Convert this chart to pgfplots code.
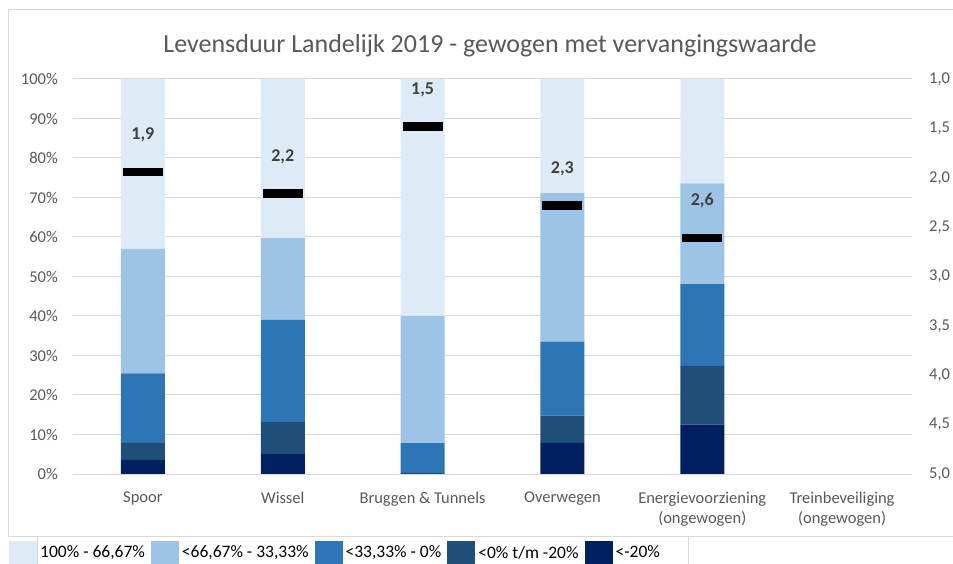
\documentclass[border=0pt]{standalone}
\usepackage{pgfplots}
\pgfplotsset{compat=1.18}
\usepackage{fontspec}
\setmainfont{Carlito}
\definecolor{cA}{HTML}{DEEBF7}
\definecolor{cB}{HTML}{9DC3E6}
\definecolor{cC}{HTML}{2E75B6}
\definecolor{cD}{HTML}{1F4E79}
\definecolor{cE}{HTML}{002060}
\definecolor{txtgray}{HTML}{595959}
\definecolor{lblgray}{HTML}{404040}
\definecolor{gridgray}{HTML}{D9D9D9}
\newcommand\tickfont{\fontsize{16.5bp}{20bp}\selectfont}
\newcommand\legfont{\fontsize{17.5bp}{21bp}\selectfont}
\newcommand\titlefont{\fontsize{26bp}{30bp}\selectfont}
\newcommand\lblfont{\fontsize{18bp}{21bp}\selectfont\bfseries}
\pgfplotsset{legimg/.style={legend image code/.code={\fill[##1] (0bp,-11.5bp) rectangle (28bp,11.5bp);}}}
\begin{document}
\begin{tikzpicture}
\useasboundingbox (0,0) rectangle (953bp,564bp);
\fill[white] (0,0) rectangle (953bp,564bp);
\begin{scope}
\clip (0,0) rectangle (953bp,564bp);
\draw[gridgray, line width=1bp] (8bp,27bp) rectangle (970bp,554bp);
\draw[gridgray, line width=1bp] (37bp,0bp) -- (37bp,27bp);
\draw[gridgray, line width=1bp] (688bp,0bp) -- (688bp,27bp);
\end{scope}
\node[anchor=base, text=txtgray, font=\titlefont, inner sep=0pt] at (490bp,511.5bp) {Levensduur Landelijk 2019 - gewogen met vervangingswaarde};
\begin{axis}[
  at={(73bp,90bp)}, anchor=south west,
  width=839bp, height=395bp, scale only axis,
  ybar stacked, bar width=44bp,
  xmin=-0.5, xmax=5.5, ymin=0, ymax=100,
  xtick={0,1,2,3,4,5},
  xticklabels={Spoor, Wissel, Bruggen \& Tunnels, Overwegen, Energievoorziening\\(ongewogen), Treinbeveiliging\\(ongewogen)},
  xticklabel style={align=center, font=\tickfont, text=txtgray, inner sep=0pt, yshift=-18bp},
  ytick={0,10,...,100},
  yticklabel={\pgfmathprintnumber{\tick}\%},
  yticklabel style={font=\tickfont, text=txtgray, inner sep=0pt, xshift=-15bp},
  ymajorgrids, grid style={gridgray, line width=1bp},
  axis line style={draw=none}, major tick length=0pt,
  legend columns=5,
  legend style={at={(-0.07628,-0.16962)}, anchor=north west, draw=none, fill=none, inner sep=0pt,
    font=\legfont, text=black, nodes={inner sep=0pt},
    /tikz/every odd column/.append style={column sep=3bp},
    /tikz/every even column/.append style={column sep=6bp}},
  /pgf/number format/assume math mode=true,
]
\addplot[fill=cE, draw=none, legimg, forget plot] coordinates {(0,3.6) (1,5.0) (2,0.0) (3,7.9) (4,12.5)};
\addplot[fill=cD, draw=none, legimg, forget plot] coordinates {(0,4.3) (1,8.2) (2,0.3) (3,6.9) (4,14.9)};
\addplot[fill=cC, draw=none, legimg, forget plot] coordinates {(0,17.6) (1,25.8) (2,7.5) (3,18.7) (4,20.7)};
\addplot[fill=cB, draw=none, legimg, forget plot] coordinates {(0,31.5) (1,20.7) (2,32.2) (3,37.6) (4,25.5)};
\addplot[fill=cA, draw=none, legimg, forget plot] coordinates {(0,43.0) (1,40.3) (2,60.0) (3,28.9) (4,26.4)};
\addlegendimage{legimg, fill=cA, draw=none}
\addlegendentry{100\% - 66,67\%}
\addlegendimage{legimg, fill=cB, draw=none}
\addlegendentry{<66,67\% - 33,33\%}
\addlegendimage{legimg, fill=cC, draw=none}
\addlegendentry{<33,33\% - 0\%}
\addlegendimage{legimg, fill=cD, draw=none}
\addlegendentry{<0\% t/m -20\%}
\addlegendimage{legimg, fill=cE, draw=none}
\addlegendentry{<-20\%}
\end{axis}
\begin{axis}[
  at={(73bp,90bp)}, anchor=south west,
  width=839bp, height=395bp, scale only axis,
  xmin=-0.5, xmax=5.5, ymin=1, ymax=5, y dir=reverse,
  axis x line=none, axis y line*=right,
  axis line style={draw=none}, major tick length=0pt,
  ytick={1,1.5,2,2.5,3,3.5,4,4.5,5},
  yticklabel style={font=\tickfont, text=txtgray, inner sep=0pt, xshift=17bp, anchor=west,
    /pgf/number format/use comma, /pgf/number format/fixed, /pgf/number format/fixed zerofill, /pgf/number format/precision=1},
  /pgf/number format/assume math mode=true,
]
\addplot[only marks, mark=-, mark size=20bp, mark options={line width=8.5bp, black},
  nodes near coords, point meta=explicit symbolic,
  every node near coord/.append style={font=\lblfont, text=lblgray, anchor=center, yshift=37bp}]
  coordinates {(0,1.94) [1,9] (1,2.16) [2,2] (2,1.48) [1,5] (3,2.28) [2,3] (4,2.61) [2,6]};
\end{axis}
\end{tikzpicture}
\end{document}
